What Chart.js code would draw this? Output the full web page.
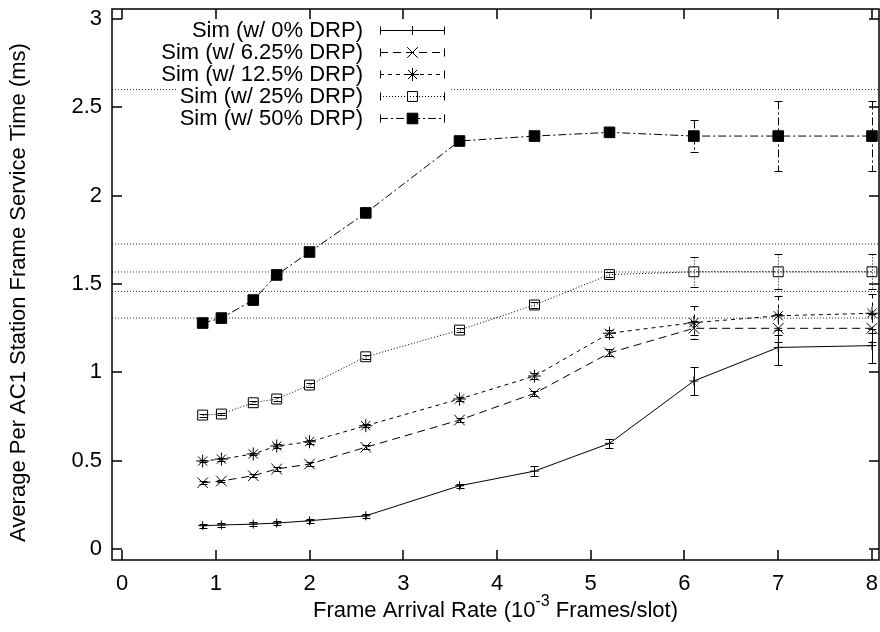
<!DOCTYPE html>
<html>
<head>
<meta charset="utf-8">
<script src="https://cdn.jsdelivr.net/npm/chart.js@4.4.0/dist/chart.umd.min.js"></script>
<style>
  html, body { margin: 0; padding: 0; background: #fff; }
</style>
</head>
<body>
<canvas id="chart" width="880" height="632"></canvas>
<script>
// frame arrival rate (10^-3 frames/slot)
const rate = [0.86, 1.06, 1.4, 1.65, 2.0, 2.6, 3.6, 4.4, 5.2, 6.1, 7.0, 8.0];

// average service time (ms) and error bar half-widths per DRP setting
const drp0     = [0.132, 0.136, 0.141, 0.147, 0.160, 0.188, 0.358, 0.441, 0.598, 0.951, 1.141, 1.151];
const drp0Err  = [0.012, 0.012, 0.012, 0.012, 0.012, 0.012, 0.012, 0.030, 0.027, 0.080, 0.100, 0.097];
const drp625    = [0.375, 0.385, 0.415, 0.453, 0.481, 0.576, 0.730, 0.881, 1.110, 1.249, 1.249, 1.249];
const drp625Err = [0.008, 0.008, 0.008, 0.010, 0.010, 0.010, 0.010, 0.015, 0.020, 0.040, 0.080, 0.080];
const drp125    = [0.498, 0.509, 0.538, 0.583, 0.607, 0.698, 0.849, 0.979, 1.221, 1.281, 1.320, 1.334];
const drp125Err = [0.008, 0.008, 0.008, 0.010, 0.010, 0.010, 0.010, 0.015, 0.020, 0.095, 0.110, 0.110];
const drp25     = [0.758, 0.764, 0.828, 0.849, 0.928, 1.088, 1.239, 1.381, 1.553, 1.569, 1.569, 1.569];
const drp25Err  = [0.008, 0.008, 0.008, 0.010, 0.010, 0.010, 0.010, 0.015, 0.015, 0.085, 0.100, 0.100];
const drp50     = [1.279, 1.307, 1.409, 1.551, 1.681, 1.902, 2.309, 2.337, 2.358, 2.337, 2.337, 2.337];
const drp50Err  = [0, 0, 0, 0, 0, 0, 0.008, 0.010, 0.010, 0.092, 0.200, 0.200];

// analytical levels drawn as dotted horizontal lines
const modelLevels = [2.6, 1.726, 1.568, 1.458, 1.307];

const seriesLabels = ['Sim (w/ 0% DRP)', 'Sim (w/ 6.25% DRP)', 'Sim (w/ 12.5% DRP)', 'Sim (w/ 25% DRP)', 'Sim (w/ 50% DRP)'];
const xTicks = [0, 1, 2, 3, 4, 5, 6, 7, 8];
const yTicks = [0, 0.5, 1, 1.5, 2, 2.5, 3];
const xMin = -0.107, xMax = 8.075;
const yMin = -0.062, yMax = 3.056;

const FONT = '"Liberation Sans", Arial, Helvetica, sans-serif';
const FS = 22;
Chart.defaults.font.family = FONT;
Chart.defaults.font.size = FS;
Chart.defaults.color = '#000';

function pts(ys) {
  return rate.map((x, i) => ({ x: x, y: ys[i] }));
}

function simSet(i, ys, errs, dash, style, radius, fill) {
  return {
    label: seriesLabels[i],
    data: pts(ys),
    errors: errs,
    borderColor: '#000',
    borderWidth: 1,
    borderDash: dash,
    pointStyle: style,
    pointRadius: radius,
    pointHoverRadius: radius,
    pointBorderWidth: 1,
    pointBorderColor: '#000',
    pointBackgroundColor: fill,
    clip: false,
    inLegend: true
  };
}

const datasets = [
  simSet(0, drp0, drp0Err, [], 'cross', 4.5, '#000'),
  simSet(1, drp625, drp625Err, [8, 5], 'crossRot', 7.5, '#000'),
  simSet(2, drp125, drp125Err, [4, 4], 'star', 6.5, '#000'),
  simSet(3, drp25, drp25Err, [1, 2], 'rect', 7, 'rgba(0,0,0,0)'),
  simSet(4, drp50, drp50Err, [8, 3, 2, 3], 'rect', 7.5, '#000')
];

modelLevels.forEach(v => {
  datasets.push({
    label: 'model',
    data: [{ x: xMin, y: v }, { x: xMax, y: v }],
    borderColor: '#333',
    borderWidth: 1,
    borderDash: [1, 2],
    pointRadius: 0,
    pointHoverRadius: 0
  });
});

// vertical error bars with caps
const errorBars = {
  id: 'errorBars',
  afterDatasetsDraw(chart) {
    const ctx = chart.ctx;
    const xs = chart.scales.x, ys = chart.scales.y;
    chart.data.datasets.forEach(ds => {
      if (!ds.errors) return;
      ctx.save();
      ctx.strokeStyle = '#000';
      ctx.lineWidth = 1;
      ds.data.forEach((p, i) => {
        const e = ds.errors[i];
        if (!e) return;
        const px = Math.round(xs.getPixelForValue(p.x)) + 0.5;
        const top = Math.round(ys.getPixelForValue(p.y + e)) + 0.5;
        const bot = Math.round(ys.getPixelForValue(p.y - e)) + 0.5;
        ctx.setLineDash(ds.borderDash);
        ctx.beginPath();
        ctx.moveTo(px, top);
        ctx.lineTo(px, bot);
        ctx.stroke();
        ctx.setLineDash([]);
        ctx.beginPath();
        ctx.moveTo(px - 4, top); ctx.lineTo(px + 4, top);
        ctx.moveTo(px - 4, bot); ctx.lineTo(px + 4, bot);
        ctx.stroke();
      });
      ctx.restore();
    });
  }
};

// border box with inward ticks on all four sides, plus axis titles
const frame = {
  id: 'frame',
  afterDraw(chart) {
    const ctx = chart.ctx;
    const a = chart.chartArea;
    const xs = chart.scales.x, ys = chart.scales.y;
    ctx.save();
    ctx.strokeStyle = '#000';
    ctx.lineWidth = 1.5;
    ctx.strokeRect(a.left, a.top, a.right - a.left, a.bottom - a.top);
    ctx.beginPath();
    xTicks.forEach(t => {
      const px = Math.round(xs.getPixelForValue(t));
      ctx.moveTo(px, a.bottom); ctx.lineTo(px, a.bottom - 10);
      ctx.moveTo(px, a.top); ctx.lineTo(px, a.top + 10);
    });
    yTicks.forEach(t => {
      const py = Math.round(ys.getPixelForValue(t));
      ctx.moveTo(a.left, py); ctx.lineTo(a.left + 10, py);
      ctx.moveTo(a.right, py); ctx.lineTo(a.right - 10, py);
    });
    ctx.stroke();

    // axis titles
    ctx.fillStyle = '#000';
    ctx.font = FS + 'px ' + FONT;
    ctx.textBaseline = 'middle';
    ctx.save();
    ctx.translate(19, (a.top + a.bottom) / 2 + 8);
    ctx.rotate(-Math.PI / 2);
    ctx.textAlign = 'center';
    ctx.fillText('Average Per AC1 Station Frame Service Time (ms)', 0, 0);
    ctx.restore();

    const p1 = 'Frame Arrival Rate (10', sup = '-3', p2 = ' Frames/slot)';
    ctx.font = FS + 'px ' + FONT;
    const w1 = ctx.measureText(p1).width, w3 = ctx.measureText(p2).width;
    ctx.font = '16px ' + FONT;
    const w2 = ctx.measureText(sup).width;
    const x0 = (a.left + a.right) / 2 - (w1 + w2 + w3) / 2;
    const ty = 611;
    ctx.textAlign = 'left';
    ctx.font = FS + 'px ' + FONT;
    ctx.fillText(p1, x0, ty);
    ctx.font = '16px ' + FONT;
    ctx.fillText(sup, x0 + w1, ty - 9);
    ctx.font = FS + 'px ' + FONT;
    ctx.fillText(p2, x0 + w1 + w2, ty);
    ctx.restore();
  }
};

// gnuplot style key, text right aligned with sample on the right
const key = {
  id: 'key',
  afterDraw(chart) {
    const ctx = chart.ctx;
    const textRight = 363, s0 = 380, s1 = 445;
    ctx.save();
    ctx.font = FS + 'px ' + FONT;
    ctx.textAlign = 'right';
    ctx.textBaseline = 'middle';
    chart.data.datasets.filter(d => d.inLegend).forEach((ds, i) => {
      const cy = 30 + i * 22.1;
      const tw = ctx.measureText(ds.label).width;
      ctx.fillStyle = '#fff';
      ctx.fillRect(textRight - tw - 2, cy - 10, s1 + 4 - (textRight - tw - 2), 20);
      ctx.fillStyle = '#000';
      ctx.fillText(ds.label, textRight, cy + 1);
      const ly = Math.round(cy) + 0.5;
      ctx.strokeStyle = '#000';
      ctx.lineWidth = 1;
      ctx.setLineDash(ds.borderDash);
      ctx.beginPath();
      ctx.moveTo(s0, ly); ctx.lineTo(s1, ly);
      ctx.stroke();
      ctx.setLineDash([]);
      ctx.beginPath();
      ctx.moveTo(s0 + 0.5, ly - 4); ctx.lineTo(s0 + 0.5, ly + 4);
      ctx.moveTo(s1 - 0.5, ly - 4); ctx.lineTo(s1 - 0.5, ly + 4);
      ctx.stroke();
      ctx.fillStyle = ds.pointBackgroundColor;
      Chart.helpers.drawPoint(ctx, {
        pointStyle: ds.pointStyle, radius: ds.pointRadius, borderWidth: 1, rotation: 0
      }, (s0 + s1) / 2, ly);
    });
    ctx.restore();
  }
};

new Chart(document.getElementById('chart'), {
  type: 'line',
  data: { datasets: datasets },
  options: {
    responsive: false,
    animation: false,
    events: [],
    layout: { autoPadding: false, padding: { top: 9, right: 1, left: 0, bottom: 0 } },
    plugins: { legend: { display: false }, tooltip: { enabled: false } },
    scales: {
      x: {
        type: 'linear',
        min: xMin,
        max: xMax,
        afterBuildTicks: s => { s.ticks = xTicks.map(v => ({ value: v })); },
        afterFit: s => { s.height = 72; s.paddingLeft = 0; s.paddingRight = 0; },
        grid: { display: false, drawTicks: false },
        border: { display: false },
        ticks: { padding: 11, callback: v => String(v) }
      },
      y: {
        type: 'linear',
        min: yMin,
        max: yMax,
        afterBuildTicks: s => { s.ticks = yTicks.map(v => ({ value: v })); },
        afterFit: s => { s.width = 112; s.paddingTop = 0; s.paddingBottom = 0; },
        grid: { display: false, drawTicks: false },
        border: { display: false },
        ticks: { padding: 10, callback: v => String(v) }
      }
    }
  },
  plugins: [errorBars, frame, key]
});
</script>
</body>
</html>
